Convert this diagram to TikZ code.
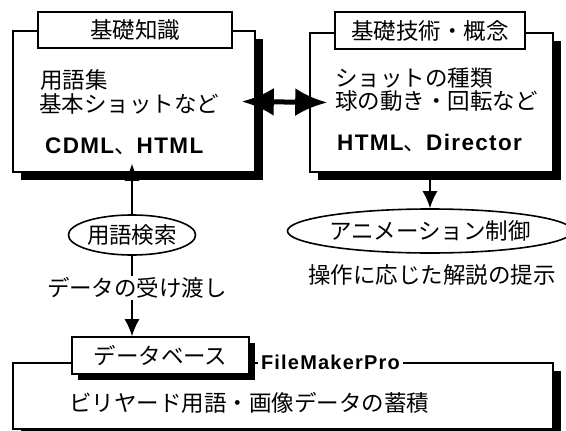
\documentclass[tikz,border=0pt]{standalone}
\usepackage{fontspec}
\setmainfont{Noto Sans CJK JP}
\newfontfamily\latfont[LetterSpace=6]{Liberation Sans}
\usetikzlibrary{shapes.geometric,arrows.meta,positioning,shadows}
\newcommand{\jp}{\fontsize{22.5pt}{27pt}\selectfont}
\newcommand{\latb}[1]{{\latfont\bfseries #1}}

\tikzset{
  frame/.style={draw, line width=1.6pt, fill=white, inner sep=0pt,
    drop shadow={shadow xshift=8pt, shadow yshift=-8pt, fill=black, opacity=1}},
  tag/.style={draw, line width=1.6pt, fill=white, inner sep=0pt, font=\jp},
  oval/.style={ellipse, draw, line width=1.6pt, fill=white, inner sep=0pt, font=\jp},
  lbl/.style={inner sep=0pt, font=\jp},
  flow/.style={line width=1.6pt, -{Latex[length=17pt,width=15pt]}},
}

\begin{document}
\begin{tikzpicture}[x=1pt, y=-1pt]
    \useasboundingbox (0,0) rectangle (566,431);

    % Basic knowledge
    \node[frame, minimum width=242pt, minimum height=141pt] (kb) at (134,101.5) {};
    \node[tag, minimum width=194pt, minimum height=36pt] (kbt) at (135,30) {基礎知識};
    \node[lbl, anchor=west] (kb1) at (40,80) {用語集};
    \node[lbl, anchor=west] (kb2) at (39,104) {基本ショットなど};
    \node[lbl, anchor=west] (kb3) at (45,146) {\latb{CDML}、\latb{HTML}};

    % Basic techniques
    \node[frame, minimum width=243pt, minimum height=139pt] (tb) at (431.5,102.5) {};
    \node[tag, minimum width=190pt, minimum height=37pt] (tbt) at (430,30.5) {基礎技術・概念};
    \node[lbl, anchor=west] (tb1) at (335,78) {ショットの種類};
    \node[lbl, anchor=west] (tb2) at (335,101) {球の動き・回転など};
    \node[lbl, anchor=west] (tb3) at (337,143) {\latb{HTML}、\latb{Director}};

    \draw[line width=5pt, {Latex[length=32pt,width=28pt]}-{Latex[length=32pt,width=28pt]}]
        ([xshift=-14pt]kb.east) -- ([xshift=18pt]tb.west);

    % Search and animation
    \node[oval, minimum width=120pt, minimum height=40pt] (ys) at (132,235) {用語検索};
    \node[oval, minimum width=266pt, minimum height=44pt] (an) at (430,231) {アニメーション制御};
    \node[lbl] (an1) at (432,275) {操作に応じた解説の提示};

    \draw[flow] (ys.north) -- ([yshift=9pt]kb.south -| ys.north);
    \draw[flow] (tb.south -| an.north) -- (an.north);

    % Database
    \node[frame, minimum width=540pt, minimum height=66pt] (db) at (283,396) {};
    \node[tag, minimum width=177pt, minimum height=37pt,
        drop shadow={shadow xshift=6pt, shadow yshift=-6pt, fill=black, opacity=1}] (dbt) at (160.5,355.5) {データベース};
    \node[lbl, anchor=west, fill=white, inner xsep=3pt, font=\fontsize{20pt}{24pt}\selectfont]
        (fmp) at ([xshift=8pt]dbt.east |- db.north) {\latb{FileMakerPro}};
    \node[lbl, anchor=west] (db1) at (69,403) {ビリヤード用語・画像データの蓄積};

    \draw[flow] (ys.south) -- (dbt.north -| ys.south);
    \node[lbl, fill=white, inner sep=2pt] (ys1) at (137,288) {データの受け渡し};
\end{tikzpicture}
\end{document}
